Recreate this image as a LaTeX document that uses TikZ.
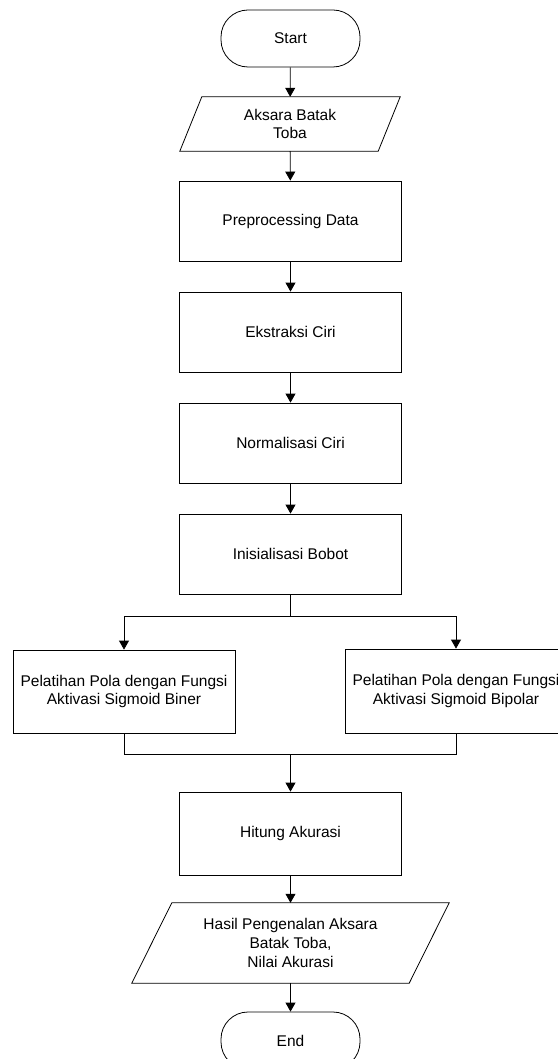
\documentclass[tikz,border=0pt]{standalone}
\usepackage{fontspec}
\setmainfont{Liberation Sans}
\usetikzlibrary{arrows.meta}
\begin{document}
\begin{tikzpicture}[x=1pt,y=-1pt,
  every node/.style={font=\fontsize{15.5}{18.7}\selectfont, align=center, inner sep=0pt},
  terminal/.style={draw, rounded corners=27pt, minimum width=139pt, minimum height=57pt},
  procbox/.style={draw, minimum width=222pt, minimum height=80pt},
  line/.style={line width=0.8pt},
  arr/.style={line width=0.8pt, -{Triangle[length=9pt,width=10pt]}}]
\useasboundingbox (0,0) rectangle (557,1059);

\node[terminal, line width=0.8pt] (start) at (290.5,38.5) {Start};
\node[minimum width=220pt, minimum height=54pt] (aksara) at (290,124) {Aksara Batak\\Toba};
\draw[line] ([xshift=22pt]aksara.north west) -- (aksara.north east)
  -- ([xshift=-22pt]aksara.south east) -- (aksara.south west) -- cycle;

\node[procbox, line] (prep) at (290.5,221) {Preprocessing Data};
\node[procbox, line] (ekst) at (290.5,332) {Ekstraksi Ciri};
\node[procbox, line] (norm) at (290.5,443) {Normalisasi Ciri};
\node[procbox, line] (init) at (290.5,554) {Inisialisasi Bobot};

\node[procbox, line, minimum height=83pt] (biner) at (124,691.5) {Pelatihan Pola dengan Fungsi\\Aktivasi Sigmoid Biner};
\node[procbox, line, minimum height=84pt] (bipolar) at (456,691) {Pelatihan Pola dengan Fungsi\\Aktivasi Sigmoid Bipolar};

\node[procbox, line, minimum height=83pt] (hitung) at (290.5,833.5) {Hitung Akurasi};

\node[minimum width=317pt, minimum height=80pt] (hasil) at (290.5,943) {Hasil Pengenalan Aksara\\Batak Toba,\\Nilai Akurasi};
\draw[line] ([xshift=40pt]hasil.north west) -- (hasil.north east)
  -- ([xshift=-40pt]hasil.south east) -- (hasil.south west) -- cycle;

\node[terminal, line width=0.8pt] (end) at (290.5,1040.5) {End};

\coordinate (split) at (290.5,616);
\coordinate (merge) at (290.5,754);

\draw[arr] (start) -- (aksara);
\draw[arr] (aksara) -- (prep);
\draw[arr] (prep) -- (ekst);
\draw[arr] (ekst) -- (norm);
\draw[arr] (norm) -- (init);
\draw[line] (init) -- (split);
\draw[arr] (split) -| (biner);
\draw[arr] (split) -| (bipolar);
\draw[line] (biner) |- (merge);
\draw[line] (bipolar) |- (merge);
\draw[arr] (merge) -- (hitung);
\draw[arr] (hitung) -- (hasil);
\draw[arr] (hasil) -- (end);
\end{tikzpicture}
\end{document}
